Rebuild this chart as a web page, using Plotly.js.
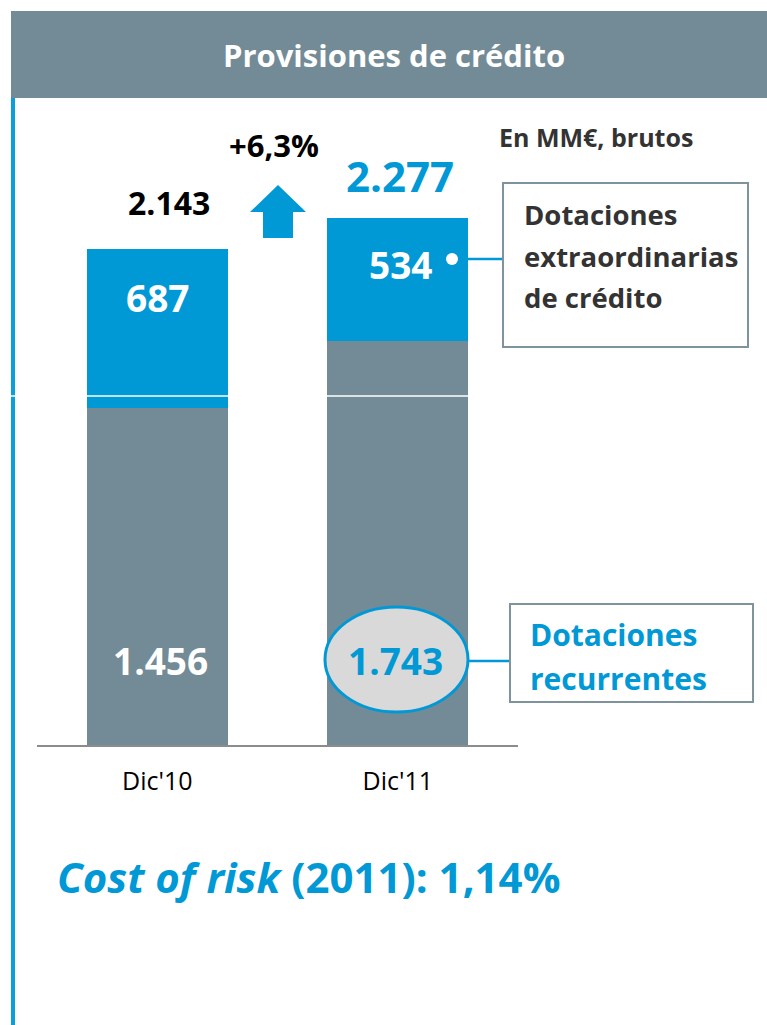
<!DOCTYPE html>
<html>
<head>
<meta charset="utf-8">
<script src="https://cdn.plot.ly/plotly-3.0.1.min.js"></script>
<style>html,body{margin:0;padding:0;background:#fff;}#chart{width:767px;height:1025px;}</style>
</head>
<body>
<div id="chart"></div>
<script>
// ---- data ----
var categories = ["Dic'10", "Dic'11"];
var recurrentes = [1456, 1743];
var extraordinarias = [687, 534];
var seriesNames = ["Dotaciones recurrentes", "Dotaciones extraordinarias de crédito"];
var boxExtraLines = ["Dotaciones", "extraordinarias", "de crédito"];
var boxRecLines = ["Dotaciones", "recurrentes"];
var chartTitle = "Provisiones de crédito";
var unitsNote = "En MM€, brutos";
var costOfRiskLabel = "Cost of risk";
var costOfRiskYear = "2011";
var costOfRiskValue = "1,14%";

// ---- helpers ----
var BLUE = '#0099D6', GRAY = '#738B97', FONT = '"Open Sans", sans-serif';
var L = 37, R = 518, T = 98, B = 745, W = 767, H = 1025;
function px(x){ return (x - L) / (R - L); }
function py(y){ return (B - y) / (B - T); }
function fmt(n){ return String(n).replace(/\B(?=(\d{3})+(?!\d))/g, '.'); }
var totals = recurrentes.map(function(v,i){ return v + extraordinarias[i]; });
var growth = (totals[1] / totals[0] - 1) * 100;
var growthTxt = '+' + growth.toFixed(1).replace('.', ',') + '%';

var traces = [
  {type:'bar', x:categories, y:recurrentes, name:seriesNames[0], marker:{color:GRAY}, width:0.586, hoverinfo:'none'},
  {type:'bar', x:categories, y:extraordinarias, name:seriesNames[1], marker:{color:BLUE}, width:0.586, hoverinfo:'none'}
];

var shapes = [
  {type:'rect', xref:'paper', yref:'paper', x0:px(11), x1:px(767), y0:py(11), y1:py(98), fillcolor:GRAY, line:{width:0}, layer:'below'},
  {type:'line', xref:'paper', yref:'paper', x0:px(13), x1:px(13), y0:py(98), y1:py(1025), line:{color:'#0A9EDA', width:4}},
  {type:'path', xref:'paper', yref:'paper',
   path:'M '+px(250)+' '+py(212)+' L '+px(278)+' '+py(185)+' L '+px(306)+' '+py(212)+' L '+px(293)+' '+py(212)+' L '+px(293)+' '+py(238)+' L '+px(263)+' '+py(238)+' L '+px(263)+' '+py(212)+' Z',
   fillcolor:BLUE, line:{width:0}},
  {type:'line', xref:'paper', yref:'paper', x0:px(452), x1:px(503), y0:py(259), y1:py(259), line:{color:BLUE, width:2.5}},
  {type:'circle', xref:'paper', yref:'paper', x0:px(446), x1:px(458), y0:py(253), y1:py(265), fillcolor:'#FFFFFF', line:{width:0}},
  {type:'rect', xref:'paper', yref:'paper', x0:px(503), x1:px(748), y0:py(183), y1:py(347), fillcolor:'rgba(0,0,0,0)', line:{color:'#7F939D', width:2}},
  {type:'circle', xref:'paper', yref:'paper', x0:px(325), x1:px(468), y0:py(607), y1:py(712), fillcolor:'#D9D9D9', line:{color:BLUE, width:3}},
  {type:'line', xref:'paper', yref:'paper', x0:px(468), x1:px(510), y0:py(661), y1:py(661), line:{color:BLUE, width:2.5}},
  {type:'rect', xref:'paper', yref:'paper', x0:px(510), x1:px(753), y0:py(604), y1:py(702), fillcolor:'rgba(0,0,0,0)', line:{color:'#7F939D', width:2}},
  {type:'line', xref:'paper', yref:'paper', x0:px(0), x1:px(520), y0:py(396), y1:py(396), line:{color:'#FFFFFF', width:1.5}}
];

function ann(x, y, text, size, color, opts){
  var a = {xref:'paper', yref:'paper', x:px(x), y:py(y), text:text, showarrow:false,
    font:{family:FONT, size:size, color:color}, xanchor:'center', yanchor:'middle'};
  if (opts) for (var k in opts) a[k] = opts[k];
  return a;
}

var annotations = [
  ann(394, 55, '<b>' + chartTitle + '</b>', 31, '#FFFFFF'),
  ann(596, 137, '<b>' + unitsNote + '</b>', 25, '#333333'),
  ann(274, 145, '<b>' + growthTxt + '</b>', 31, '#000000'),
  ann(169, 202, '<b>' + fmt(totals[0]) + '</b>', 32, '#000000'),
  ann(400, 175, '<b>' + fmt(totals[1]) + '</b>', 42, BLUE),
  ann(157, 297, '<b>' + fmt(extraordinarias[0]) + '</b>', 37, '#FFFFFF'),
  ann(400, 264, '<b>' + fmt(extraordinarias[1]) + '</b>', 37, '#FFFFFF'),
  ann(160, 660, '<b>' + fmt(recurrentes[0]) + '</b>', 37, '#FFFFFF'),
  ann(395, 660, '<b>' + fmt(recurrentes[1]) + '</b>', 37, BLUE),
  ann(55, 876, '<b><i>' + costOfRiskLabel + '</i> (' + costOfRiskYear + '): ' + costOfRiskValue + '</b>', 42, BLUE, {xanchor:'left'})
];
var ys1 = [214, 256, 297];
boxExtraLines.forEach(function(t, i){ annotations.push(ann(522, ys1[i], '<b>' + t + '</b>', 27.5, '#333333', {xanchor:'left'})); });
var ys2 = [634, 678];
boxRecLines.forEach(function(t, i){ annotations.push(ann(528, ys2[i], '<b>' + t + '</b>', 30, BLUE, {xanchor:'left'})); });

var layout = {
  width:W, height:H,
  margin:{l:L, r:W-R, t:T, b:H-B, pad:0},
  paper_bgcolor:'#FFFFFF', plot_bgcolor:'#FFFFFF',
  barmode:'stack', bargap:0.4, showlegend:false,
  xaxis:{type:'category', range:[-0.5,1.5], showline:true, linecolor:'#8C8C8C', linewidth:2,
         ticks:'', showgrid:false, zeroline:false, tickfont:{family:FONT, size:25, color:'#000000'},
         ticklabelstandoff:13, fixedrange:true},
  yaxis:{range:[0,2794], visible:false, showgrid:false, zeroline:false, fixedrange:true},
  shapes:shapes, annotations:annotations
};

Plotly.newPlot('chart', traces, layout, {displayModeBar:false, staticPlot:true});
</script>
</body>
</html>
